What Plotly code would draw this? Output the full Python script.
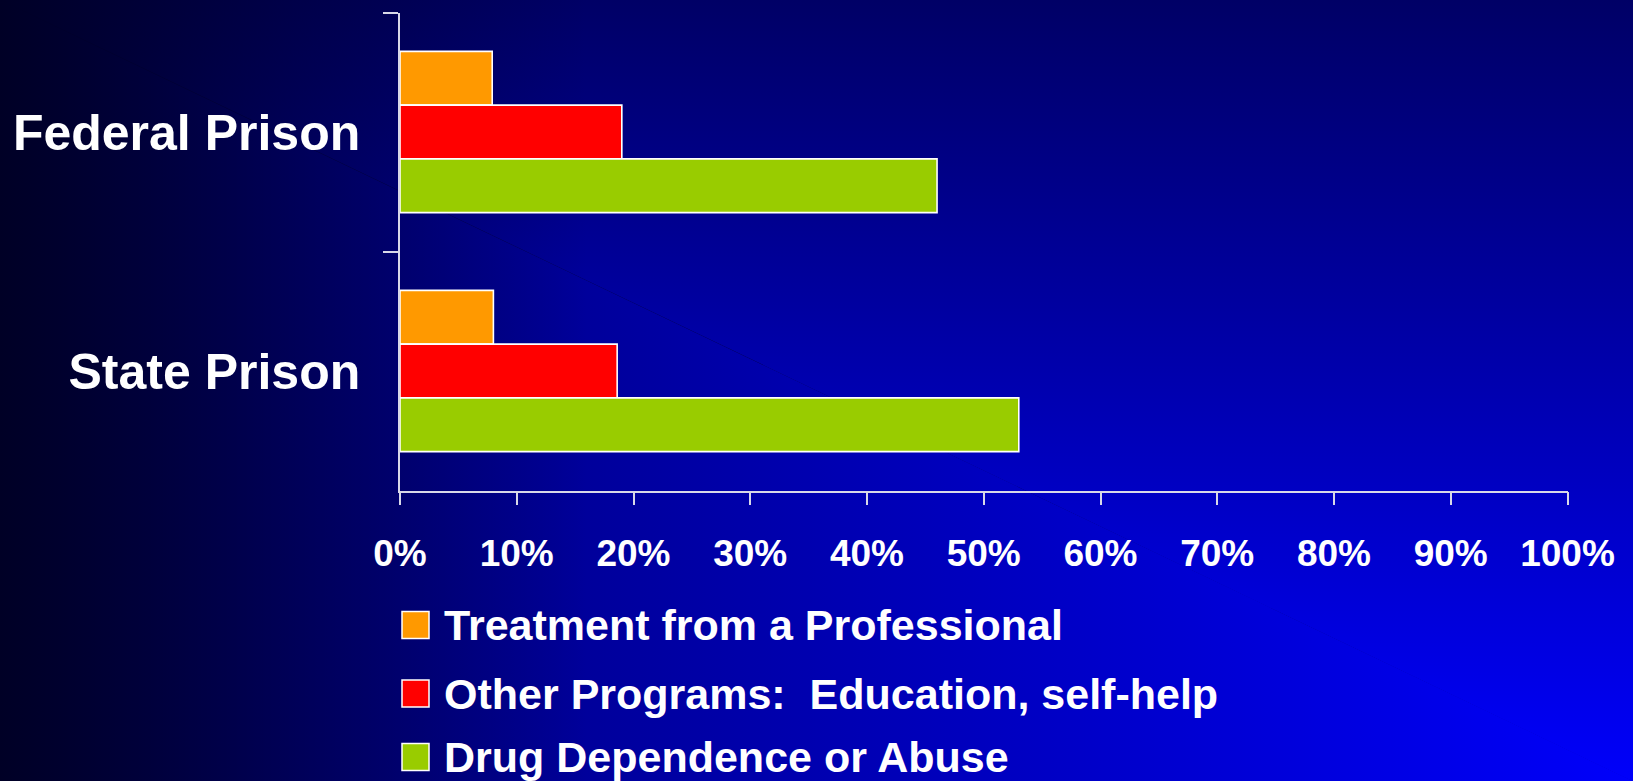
import base64
import plotly.graph_objects as go

# ---------------- data ----------------
categories = ["Federal Prison", "State Prison"]
series_names = [
    "Treatment from a Professional",
    "Other Programs:  Education, self-help",
    "Drug Dependence or Abuse",
]
treatment = [7.9, 8.0]
other_programs = [19.0, 18.6]
drug_dependence = [46.0, 53.0]
series_values = [treatment, other_programs, drug_dependence]
series_colors = ["#FF9900", "#FF0000", "#99CC00"]
x_tickvals = [0, 10, 20, 30, 40, 50, 60, 70, 80, 90, 100]
x_ticktext = [f"{v}%" for v in x_tickvals]

# ---------------- geometry ----------------
W, H = 1633, 781
FONT = "Liberation Sans, Arial, sans-serif"
AXIS_COLOR = "#D8D8E8"

fig = go.Figure()
for name, vals, col in zip(series_names, series_values, series_colors):
    fig.add_trace(go.Bar(
        y=categories, x=vals, name=name, orientation="h",
        marker=dict(color=col, line=dict(color="#FFFFFF", width=1.6)),
        showlegend=False,
        hovertemplate="%{y}: %{x}%<extra>" + name + "</extra>",
    ))

# ---------------- gradient background (styling only, SVG image) ----------------
bg_svg = f"""<svg xmlns="http://www.w3.org/2000/svg" width="{W}" height="{H}" viewBox="0 0 {W} {H}" preserveAspectRatio="none">
<defs>
<linearGradient id="gh" x1="0" y1="0" x2="{W}" y2="0" gradientUnits="userSpaceOnUse">
<stop offset="0" stop-color="#000066"/><stop offset="1" stop-color="#0000FA"/></linearGradient>
<linearGradient id="gv" x1="0" y1="0" x2="0" y2="{H}" gradientUnits="userSpaceOnUse">
<stop offset="0" stop-color="#000066"/><stop offset="1" stop-color="#0000FA"/></linearGradient>
<linearGradient id="dk" x1="0" y1="0" x2="{int(W*0.36)}" y2="0" gradientUnits="userSpaceOnUse">
<stop offset="0" stop-color="#000026" stop-opacity="1"/>
<stop offset="0.5" stop-color="#000026" stop-opacity="0.45"/>
<stop offset="1" stop-color="#000026" stop-opacity="0"/></linearGradient>
</defs>
<polygon points="0,0 0,{H} {W},{H}" fill="url(#gh)"/>
<polygon points="-1,-1 {W+1},-1 {W+1},{H+1}" fill="url(#gv)"/>
<rect x="0" y="0" width="{W}" height="{H}" fill="url(#dk)"/>
</svg>"""
bg_src = "data:image/svg+xml;base64," + base64.b64encode(bg_svg.encode()).decode()

# ---------------- manual legend (large swatches) ----------------
shapes = []
annotations = []
sw = 27
row_y = [625, 693.5, 757]
sw_x0 = 402
txt_x = 442
for name, col, yc in zip(series_names, series_colors, row_y):
    shapes.append(dict(type="rect", xref="paper", yref="paper",
                       x0=sw_x0 / W, x1=(sw_x0 + sw) / W,
                       y0=1 - (yc + sw / 2) / H, y1=1 - (yc - sw / 2) / H,
                       fillcolor=col, line=dict(color="#FFFFFF", width=1.5)))
    annotations.append(dict(xref="paper", yref="paper", x=txt_x / W, y=1 - yc / H,
                            xanchor="left", yanchor="middle", showarrow=False,
                            text=name.replace("  ", " \u00a0"),
                            font=dict(family=FONT, size=43, color="#FFFFFF", weight="bold")))

fig.update_layout(
    template="none",
    width=W, height=H, autosize=False,
    margin=dict(l=0, r=0, t=0, b=0, pad=0, autoexpand=False),
    paper_bgcolor="#000044",
    plot_bgcolor="rgba(0,0,0,0)",
    barmode="group", bargap=0.325, bargroupgap=0,
    showlegend=False,
    images=[dict(source=bg_src, xref="paper", yref="paper", x=0, y=1,
                 sizex=1, sizey=1, sizing="stretch", xanchor="left",
                 yanchor="top", layer="below")],
    shapes=shapes, annotations=annotations,
    xaxis=dict(
        domain=[400 / W, 1567.5 / W],
        automargin=False,
        range=[0, 100], tickvals=x_tickvals, ticktext=x_ticktext,
        showgrid=False, zeroline=False,
        showline=True, linecolor=AXIS_COLOR, linewidth=1.5,
        ticks="outside", ticklen=13, tickwidth=1.5, tickcolor=AXIS_COLOR,
        ticklabelstandoff=16,
        tickfont=dict(family=FONT, size=37, color="#FFFFFF", weight="bold"),
        fixedrange=True,
    ),
    yaxis=dict(
        domain=[1 - 490.5 / H, 1 - 12.5 / H],
        automargin=False,
        type="category", categoryorder="array", categoryarray=categories,
        autorange="reversed",
        showgrid=False, zeroline=False,
        showline=True, linecolor=AXIS_COLOR, linewidth=1.5,
        ticks="outside", tickson="boundaries", ticklen=15, tickwidth=1.5,
        tickcolor=AXIS_COLOR, ticklabelstandoff=28,
        tickfont=dict(family=FONT, size=50, color="#FFFFFF", weight="bold"),
        fixedrange=True,
    ),
)

fig.write_html("out.html", config={"displayModeBar": False})

# remove default page margins so the figure fills the window exactly
with open("out.html", "r", encoding="utf-8") as f:
    html = f.read()
html = html.replace("<body>", '<body style="margin:0;padding:0;overflow:hidden;">', 1)
with open("out.html", "w", encoding="utf-8") as f:
    f.write(html)
